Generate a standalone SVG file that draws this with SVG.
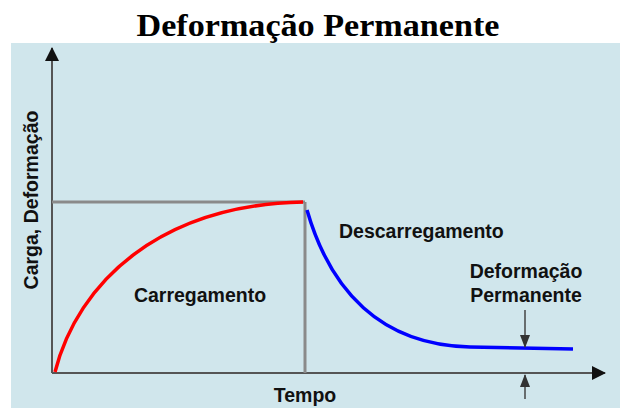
<svg xmlns="http://www.w3.org/2000/svg" width="620" height="408" viewBox="0 0 620 408">
<defs>
<style>
.lbl{font-family:"Liberation Sans",Arial,sans-serif;font-weight:bold;font-size:19.5px;fill:#111}
.axis{stroke:#555;stroke-width:2;fill:none}
.box{stroke:#8a8a8a;stroke-width:3;fill:none}
.small{stroke:#444;stroke-width:1.5;fill:none}
</style>
<marker id="ah" viewBox="0 0 14 14" refX="13" refY="7" markerWidth="14" markerHeight="14" orient="auto" markerUnits="userSpaceOnUse"><path d="M0,0 L14,7 L0,14 z" fill="#111"/></marker>
<marker id="sh" viewBox="0 0 13 10" refX="12" refY="5" markerWidth="13" markerHeight="10" orient="auto" markerUnits="userSpaceOnUse"><path d="M0,0 L13,5 L0,10 z" fill="#333"/></marker>
</defs>
<rect x="0" y="0" width="620" height="408" fill="#fff"/>
<rect x="11" y="43" width="609" height="365" fill="#d0e6ec"/>
<text x="318" y="36" text-anchor="middle" font-family="'Liberation Serif','DejaVu Serif',serif" font-weight="bold" font-size="31" textLength="363" lengthAdjust="spacingAndGlyphs" fill="#000">Deformação Permanente</text>
<g id="connectors">
<line class="axis" x1="52" y1="373" x2="52" y2="48" marker-end="url(#ah)"/>
<line class="axis" x1="52" y1="373" x2="605" y2="373" marker-end="url(#ah)"/>
<line class="box" x1="52" y1="202" x2="305" y2="202"/>
<line class="box" x1="305" y1="202" x2="305" y2="373"/>
<path d="M55,372 C78,282 160,205 303,202" stroke="#f00" stroke-width="3.5" fill="none"/>
<path d="M307,210 C330,290 380,345 470,347 L573,349" stroke="#00f" stroke-width="3.5" fill="none"/>
<line class="small" x1="525" y1="310" x2="525" y2="347" marker-end="url(#sh)"/>
<line class="small" x1="525" y1="399" x2="525" y2="375" marker-end="url(#sh)"/>
</g>
<g id="ylabel"><text class="lbl" transform="translate(38,200) rotate(-90)" text-anchor="middle" font-size="19">Carga, Deformação</text></g>
<g id="carregamento"><text class="lbl" x="200" y="302" text-anchor="middle">Carregamento</text></g>
<g id="descarregamento"><text class="lbl" x="339" y="238">Descarregamento</text></g>
<g id="deformacao"><text class="lbl" x="526" y="278" text-anchor="middle">Deformação</text><text class="lbl" x="526" y="302" text-anchor="middle">Permanente</text></g>
<g id="tempo"><text class="lbl" x="305" y="402" text-anchor="middle">Tempo</text></g>
</svg>
